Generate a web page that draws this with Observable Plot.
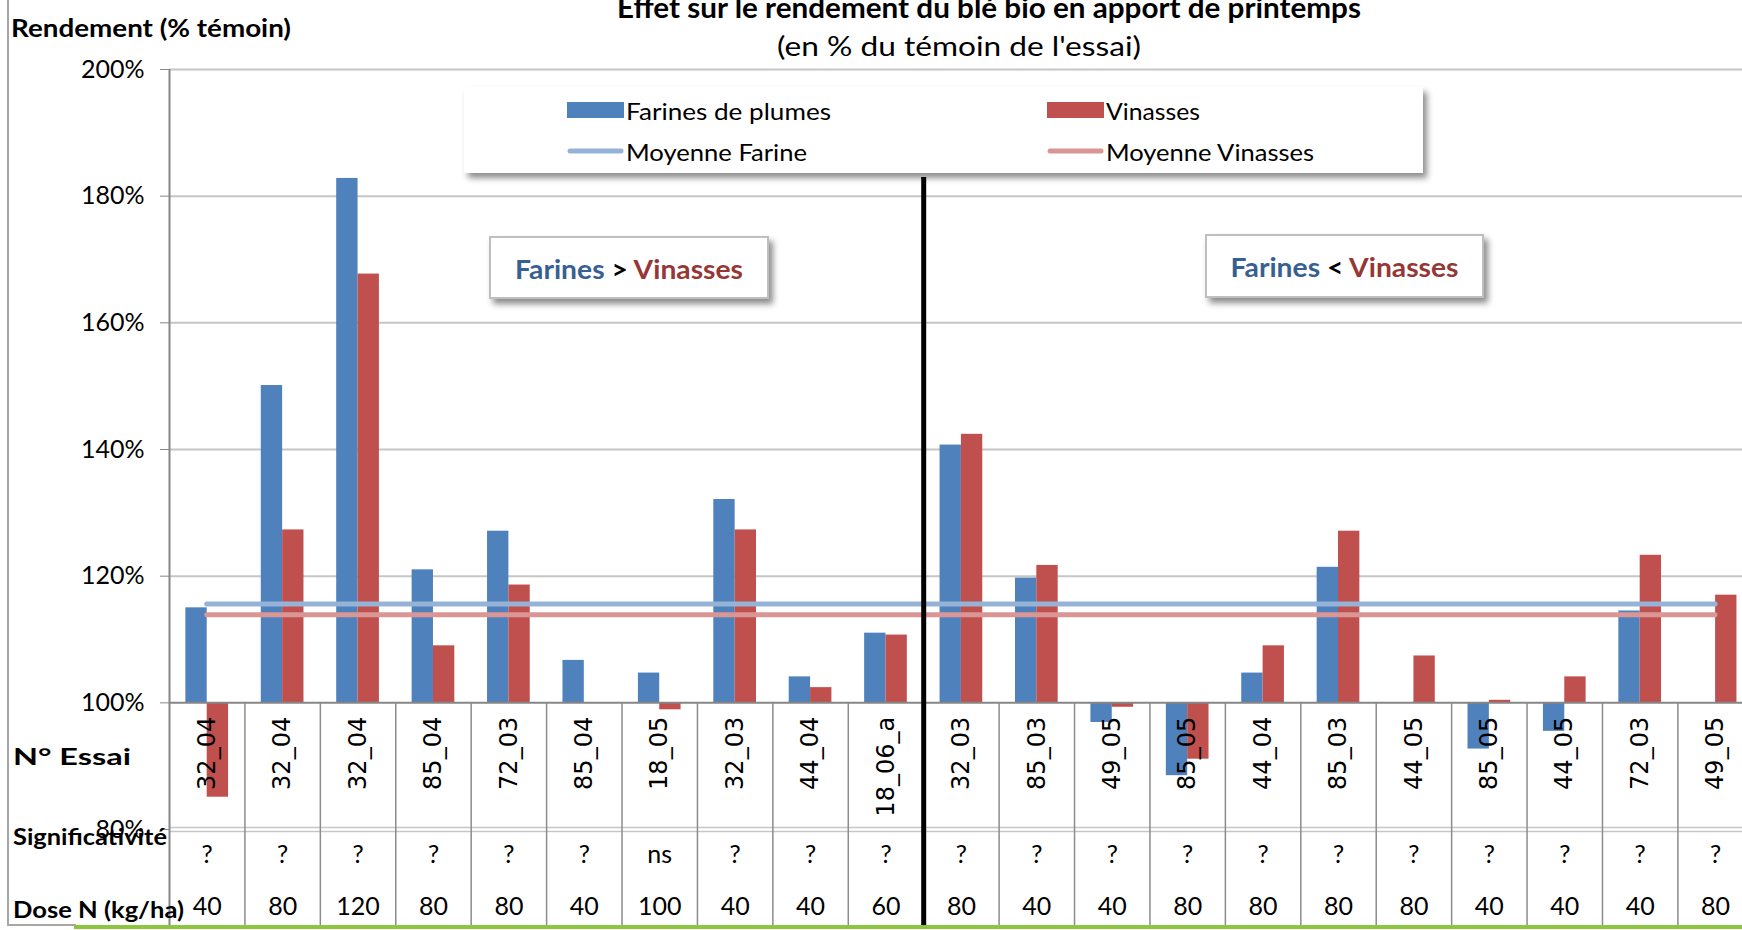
<!DOCTYPE html>
<html><head><meta charset="utf-8">
<script src="https://cdn.jsdelivr.net/npm/d3@7"></script>
<script src="https://cdn.jsdelivr.net/npm/@observablehq/plot@0.6"></script>
<style>
html,body{margin:0;padding:0;background:#fff;}
#wrap{position:relative;width:1742px;height:930px;overflow:hidden;background:#fff;}
#wrap > svg{position:absolute;left:0;top:0;}
</style></head><body><div id="wrap"></div>
<script>
// ---- Data ----
const essais = ["32_04","32_04","32_04","85_04","72_03","85_04","18_05","32_03","44_04","18_06_a","32_03","85_03","49_05","85_05","44_04","85_03","44_05","85_05","44_05","72_03","49_05"];
const farines = [115.0,150.1,182.8,121.0,127.1,106.7,104.7,132.1,104.1,111.0,140.7,119.7,96.9,88.5,104.7,121.4,100.0,92.7,95.5,114.5,100.0];
const vinasses = [85.1,127.3,167.7,109.0,118.6,100.0,98.9,127.3,102.4,110.7,142.4,121.7,99.3,91.1,109.0,127.1,107.4,100.4,104.1,123.3,117.0];
const significativite = ["?","?","?","?","?","?","ns","?","?","?","?","?","?","?","?","?","?","?","?","?","?"];
const doses = [40,80,120,80,80,40,100,40,40,60,80,40,40,80,80,80,80,40,40,40,80];
const moyenneFarine = 115.6;
const moyenneVinasses = 113.9;
const yTicks = [80,100,120,140,160,180,200];
const gridTicks = [120,140,160,180,200];
const baseline = 100;
const nbFarinesSup = 10; // essais 1..10 : Farines > Vinasses

const rows = essais.map((essai, k) => ({i: k + 1, essai, farine: farines[k], vinasse: vinasses[k], sig: significativite[k], dose: doses[k]}));

// ---- Layout ----
const W = 1742, H = 930;
const bandPx = 75.42;
const marginLeft = 169, marginTop = 69, marginBottom = 101;
const xMax = 0.5 + (W - marginLeft) / bandPx;
const half = 0.283;
const blue = "#4F81BD", red = "#C0504D";
const blueMean = "#95B3D7", redMean = "#DA9694";
const gridCol = "#c6c6c6", axisCol = "#868686";

const plot = Plot.plot({
  width: W, height: H, marginLeft, marginRight: 0, marginTop, marginBottom,
  style: {fontFamily: "Lato", fontSize: "25px", color: "#000", background: "transparent", overflow: "visible"},
  x: {type: "linear", domain: [0.5, xMax], axis: null},
  y: {domain: [80, 200], ticks: yTicks, tickFormat: d => d + "%", tickSize: 9, tickPadding: 16, label: null, axis: "left"},
  marks: [
    Plot.ruleY(gridTicks, {stroke: gridCol, strokeWidth: 2}),
    Plot.ruleY([80], {stroke: gridCol, strokeWidth: 1.5, dy: -2}),
    Plot.ruleY([80], {stroke: gridCol, strokeWidth: 1.5, dy: 2}),
    Plot.rect(rows, {x1: d => d.i - half, x2: d => d.i, y1: baseline, y2: "farine", fill: blue}),
    Plot.rect(rows, {x1: d => d.i, x2: d => d.i + half, y1: baseline, y2: "vinasse", fill: red}),
    Plot.ruleY([moyenneFarine], {x1: 1, x2: essais.length, stroke: blueMean, strokeWidth: 5, strokeLinecap: "round"}),
    Plot.ruleY([moyenneVinasses], {x1: 1, x2: essais.length, stroke: redMean, strokeWidth: 5, strokeLinecap: "round"}),
    Plot.ruleY([baseline], {stroke: axisCol, strokeWidth: 2}),
    Plot.ruleX(rows, {x: d => d.i + 0.5, y1: baseline, y2: 80, insetBottom: -96, stroke: "#8c8c8c", strokeWidth: 1.5}),
    Plot.ruleX([0.5], {y1: 200, y2: 80, insetBottom: -96, stroke: axisCol, strokeWidth: 2}),
    Plot.text(rows, {x: "i", y: baseline, text: "essai", rotate: -90, textAnchor: "end", dy: 14, fontFamily: "DejaVu Sans", fontSize: 24}),
    Plot.text(rows, {x: "i", text: "sig", frameAnchor: "bottom", dy: 33, fontSize: 25}),
    Plot.text(rows, {x: "i", text: d => String(d.dose), frameAnchor: "bottom", dy: 85, fontSize: 25}),
    Plot.ruleX([nbFarinesSup + 0.5], {y1: 200, y2: 80, insetTop: 108, insetBottom: -96, stroke: "#000", strokeWidth: 5})
  ]
});
plot.querySelectorAll('g[aria-label^="y-axis"] path, g[aria-label^="y-axis"] line').forEach(e => e.setAttribute("stroke", axisCol));
document.getElementById("wrap").appendChild(plot);

// ---- Overlay: titles, legend, annotations, frame ----
const ov = d3.select("#wrap").append("svg").attr("width", W).attr("height", H).style("pointer-events", "none");
const defs = ov.append("defs");
defs.append("filter").attr("id", "sh").attr("x", "-5%").attr("y", "-10%").attr("width", "115%").attr("height", "140%")
  .append("feDropShadow").attr("dx", 4).attr("dy", 5).attr("stdDeviation", 3).attr("flood-color", "#000").attr("flood-opacity", 0.45);

// chart border
ov.append("line").attr("x1", 8).attr("x2", 8).attr("y1", 0).attr("y2", 926).attr("stroke", "#a6a6a6").attr("stroke-width", 2);
ov.append("line").attr("x1", 8).attr("x2", 76).attr("y1", 925).attr("y2", 925).attr("stroke", "#a6a6a6").attr("stroke-width", 2);
ov.append("line").attr("x1", 74).attr("x2", W).attr("y1", 927).attr("y2", 927).attr("stroke", "#8CC63E").attr("stroke-width", 4);

const txt = (x, y, s, o = {}) => {
  const t = ov.append("text").attr("x", x).attr("y", y)
    .attr("font-family", "Lato").attr("font-size", o.size || 22).attr("font-weight", o.bold ? "bold" : "normal")
    .attr("text-anchor", o.anchor || "start").attr("dominant-baseline", o.db || "auto").attr("fill", o.fill || "#000").text(s);
  if (o.len) t.attr("textLength", o.len).attr("lengthAdjust", "spacingAndGlyphs");
  return t;
};

txt(989, 18, "Effet sur le rendement du blé bio en apport de printemps", {size: 28, bold: true, anchor: "middle", len: 744});
txt(959, 56, "(en % du témoin de l'essai)", {size: 27, anchor: "middle", len: 364});
txt(11, 37, "Rendement (% témoin)", {size: 24, bold: true, len: 280});
txt(13, 756, "N° Essai", {size: 22, bold: true, db: "central", len: 118});
txt(13, 836, "Significativité", {size: 22, bold: true, db: "central", len: 154});
txt(13, 909, "Dose N (kg/ha)", {size: 22, bold: true, db: "central", len: 171});

// legend
ov.append("rect").attr("x", 464).attr("y", 87).attr("width", 959).attr("height", 86).attr("fill", "#fff").attr("filter", "url(#sh)");
ov.append("rect").attr("x", 567).attr("y", 102).attr("width", 57).attr("height", 16).attr("fill", blue);
ov.append("rect").attr("x", 1047).attr("y", 102).attr("width", 57).attr("height", 16).attr("fill", red);
ov.append("line").attr("x1", 570).attr("x2", 621).attr("y1", 151).attr("y2", 151).attr("stroke", blueMean).attr("stroke-width", 5).attr("stroke-linecap", "round");
ov.append("line").attr("x1", 1050).attr("x2", 1101).attr("y1", 151).attr("y2", 151).attr("stroke", redMean).attr("stroke-width", 5).attr("stroke-linecap", "round");
txt(626, 111, "Farines de plumes", {size: 23, db: "central", len: 205});
txt(1106, 111, "Vinasses", {size: 23, db: "central", len: 94});
txt(626, 152, "Moyenne Farine", {size: 23, db: "central", len: 181});
txt(1106, 152, "Moyenne Vinasses", {size: 23, db: "central", len: 208});

// annotation boxes
function box(x, y, w, h, sign) {
  ov.append("rect").attr("x", x).attr("y", y).attr("width", w).attr("height", h).attr("fill", "#fff")
    .attr("stroke", "#bfbfbf").attr("stroke-width", 2).attr("filter", "url(#sh)");
  const t = ov.append("text").attr("x", x + w / 2).attr("y", y + h / 2 + 1).attr("text-anchor", "middle")
    .attr("dominant-baseline", "central").attr("font-family", "Lato").attr("font-weight", "bold").attr("font-size", 26)
    .attr("textLength", 228).attr("lengthAdjust", "spacingAndGlyphs");
  t.append("tspan").attr("fill", "#376092").text("Farines");
  t.append("tspan").attr("fill", "#000").text(" " + sign + " ");
  t.append("tspan").attr("fill", "#953735").text("Vinasses");
}
box(490, 237, 278, 61, ">");
box(1206, 235, 277, 62, "<");
</script></body></html>
